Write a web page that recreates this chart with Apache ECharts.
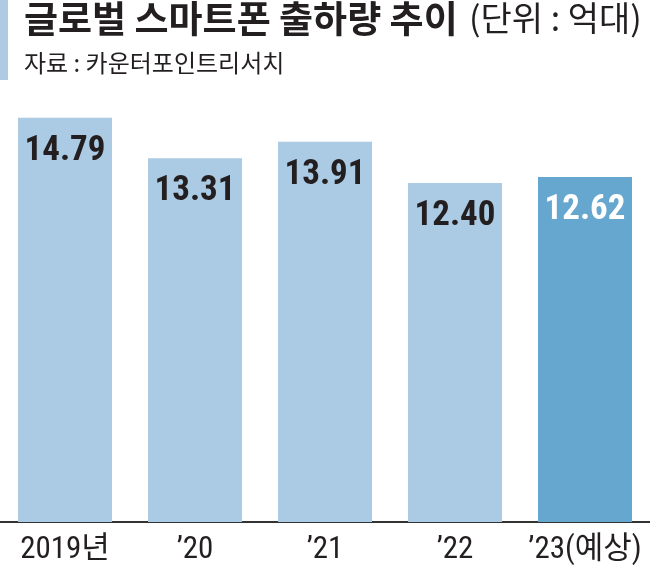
<!DOCTYPE html>
<html>
<head>
<meta charset="utf-8">
<script src="https://cdn.jsdelivr.net/npm/echarts@6/dist/echarts.min.js"></script>
<style>
html,body{margin:0;padding:0;background:#fff;}
#main{width:650px;height:573px;}
</style>
</head>
<body>
<div id="main"></div>
<script>
const categories = ['2019년', '’20', '’21', '’22', '’23(예상)'];
const shipments = [14.79, 13.31, 13.91, 12.40, 12.62];
const valueLabels = ['14.79', '13.31', '13.91', '12.40', '12.62'];
const forecastIndex = 4;

const LIGHT = '#abcae3';
const DARK = '#66a7cf';
const TEXT = '#231f20';
const NUM_FONT = '"Roboto Condensed", "Arial Narrow", Roboto, "Noto Sans CJK KR", sans-serif';

const chart = echarts.init(document.getElementById('main'), null, {renderer: 'canvas'});

const seriesData = shipments.map((v, i) => ({
  value: v,
  itemStyle: {color: i === forecastIndex ? DARK : LIGHT},
  label: {color: i === forecastIndex ? '#ffffff' : TEXT}
}));

chart.setOption({
  animation: false,
  backgroundColor: '#ffffff',
  graphic: [
    {type: 'rect', left: 0, top: 0, shape: {width: 8, height: 80}, style: {fill: '#aecbe3'}},
    {type: 'text', left: 24, top: 0, style: {
      text: '글로벌 스마트폰 출하량 추이', fill: TEXT,
      font: 'bold 37px "Noto Sans CJK KR", sans-serif'}},
    {type: 'text', left: 469, top: 1, style: {
      text: '(단위 : 억대)', fill: TEXT,
      font: '34px "Noto Sans CJK KR", sans-serif'}},
    {type: 'text', left: 24, top: 51, style: {
      text: '자료 : 카운터포인트리서치', fill: TEXT,
      font: '24px "Noto Sans CJK KR", sans-serif'}}
  ],
  grid: {left: 0, right: 0, top: 112, bottom: 51, containLabel: false},
  xAxis: {
    type: 'category',
    data: categories,
    axisLine: {show: true, lineStyle: {color: '#333333', width: 2}},
    axisTick: {show: false},
    axisLabel: {
      interval: 0,
      color: TEXT, fontSize: 31, margin: 13,
      fontFamily: NUM_FONT
    }
  },
  yAxis: {
    type: 'value', min: 0, max: 15, show: false,
    splitLine: {show: false}
  },
  series: [{
    type: 'bar',
    data: seriesData,
    barWidth: 94,
    label: {
      show: true,
      position: 'insideTop',
      distance: 16,
      fontSize: 35,
      fontWeight: 'bold',
      fontFamily: NUM_FONT,
      formatter: p => valueLabels[p.dataIndex]
    }
  }]
});
</script>
</body>
</html>
